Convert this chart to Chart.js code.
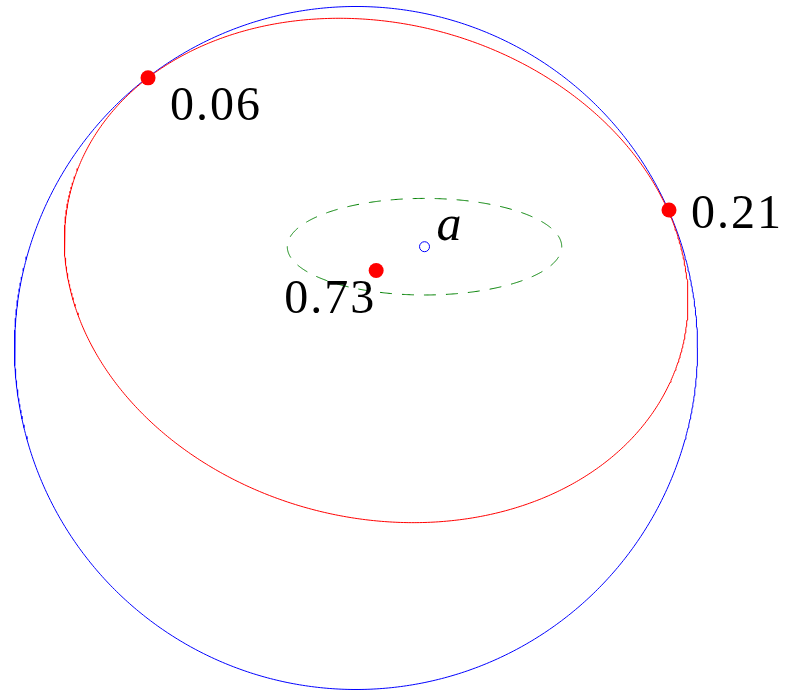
<!DOCTYPE html>
<html>
<head>
<meta charset="utf-8">
<script src="https://cdn.jsdelivr.net/npm/chart.js@4/dist/chart.umd.min.js"></script>
<style>
  html, body { margin: 0; padding: 0; background: #ffffff; }
  canvas { display: block; }
</style>
</head>
<body>
<canvas id="fig" width="785" height="691"></canvas>
<script>
// Plot window (data units: outer circle has radius 1, centred at the origin)
const xRange = [-1.0425, 1.2562];
const yRange = [-1.0044, 1.0190];

// Outer blue circle
const circleCenter = [0, 0];
const circleRadius = [1];

// Red ellipse: centre, semi-axes, tilt in degrees
const ellipseCenter = [0.059, 0.227];
const ellipseAxes = [0.9244, 0.7242];
const ellipseTilt = [-14.55];

// Green dashed ellipse around the point a
const innerCenter = [0.2006, 0.2966];
const innerAxes = [0.4018, 0.1414];

// Red labelled points
const pointX = [-0.609, 0.9165, 0.059];
const pointY = [0.791, 0.404, 0.227];
const pointLabels = ['0.06', '0.21', '0.73'];

// The point a
const markX = [0.2006];
const markY = [0.2966];
const markLabels = ['a'];

// Trace a (possibly tilted) ellipse as a closed polyline
function traceEllipse(c, ax, tiltDeg, steps) {
  const t0 = tiltDeg * Math.PI / 180;
  const ct = Math.cos(t0), st = Math.sin(t0);
  const pts = [];
  for (let i = 0; i <= steps; i++) {
    const t = 2 * Math.PI * i / steps;
    const u = ax[0] * Math.cos(t), v = ax[1] * Math.sin(t);
    pts.push({ x: c[0] + u * ct - v * st, y: c[1] + u * st + v * ct });
  }
  return pts;
}

function toPoints(xs, ys) {
  return xs.map((x, i) => ({ x: x, y: ys[i] }));
}

const serif = '"Liberation Serif", "DejaVu Serif", serif';

// Label placement relative to each marker: [align, dx, dy to baseline]
const labelStyle = {
  red: [
    ['left', 22, 42],
    ['left', 22, 18],
    ['right', 0, 43]
  ],
  mark: [
    ['left', 12, -7]
  ]
};

const labelPlugin = {
  id: 'pointText',
  afterDatasetsDraw(chart) {
    const ctx = chart.ctx;
    chart.data.datasets.forEach((ds, di) => {
      if (!ds.pointText) return;
      const meta = chart.getDatasetMeta(di);
      meta.data.forEach((el, i) => {
        const st = labelStyle[ds.labelKey][i];
        ctx.save();
        ctx.fillStyle = '#000000';
        ctx.font = ds.labelFont;
        if ('letterSpacing' in ctx) ctx.letterSpacing = ds.labelSpacing || '0px';
        ctx.textAlign = st[0];
        ctx.textBaseline = 'alphabetic';
        ctx.fillText(ds.pointText[i], el.x + st[1], el.y + st[2]);
        ctx.restore();
      });
    });
  }
};

const lineBase = {
  showLine: true,
  pointRadius: 0,
  pointHoverRadius: 0,
  borderWidth: 1,
  tension: 0,
  fill: false,
  clip: false
};

new Chart(document.getElementById('fig'), {
  type: 'scatter',
  data: {
    datasets: [
      Object.assign({}, lineBase, {
        label: 'circle',
        data: traceEllipse(circleCenter, [circleRadius[0], circleRadius[0]], 0, 720),
        borderColor: '#0000ff',
        order: 5
      }),
      Object.assign({}, lineBase, {
        label: 'ellipse',
        data: traceEllipse(ellipseCenter, ellipseAxes, ellipseTilt[0], 720),
        borderColor: '#ff0000',
        order: 4
      }),
      Object.assign({}, lineBase, {
        label: 'inner',
        data: traceEllipse(innerCenter, innerAxes, 0, 720),
        borderColor: '#008000',
        borderDash: [12, 10],
        order: 3
      }),
      {
        label: 'a',
        data: toPoints(markX, markY),
        showLine: false,
        pointRadius: 5,
        pointHoverRadius: 5,
        pointBackgroundColor: '#ffffff',
        pointBorderColor: '#0000ff',
        pointBorderWidth: 1,
        clip: false,
        pointText: markLabels,
        labelKey: 'mark',
        labelFont: 'italic 50px ' + serif,
        order: 2
      },
      {
        label: 'points',
        data: toPoints(pointX, pointY),
        showLine: false,
        pointRadius: 7.5,
        pointHoverRadius: 7.5,
        pointBackgroundColor: '#ff0000',
        pointBorderWidth: 0,
        clip: false,
        pointText: pointLabels,
        labelKey: 'red',
        labelFont: '48px ' + serif,
        labelSpacing: '2px',
        order: 1
      }
    ]
  },
  options: {
    responsive: false,
    animation: false,
    events: [],
    layout: { padding: 0, autoPadding: false },
    plugins: {
      legend: { display: false },
      tooltip: { enabled: false }
    },
    scales: {
      x: { type: 'linear', min: xRange[0], max: xRange[1], display: false },
      y: { type: 'linear', min: yRange[0], max: yRange[1], display: false }
    }
  },
  plugins: [labelPlugin]
});
</script>
</body>
</html>
